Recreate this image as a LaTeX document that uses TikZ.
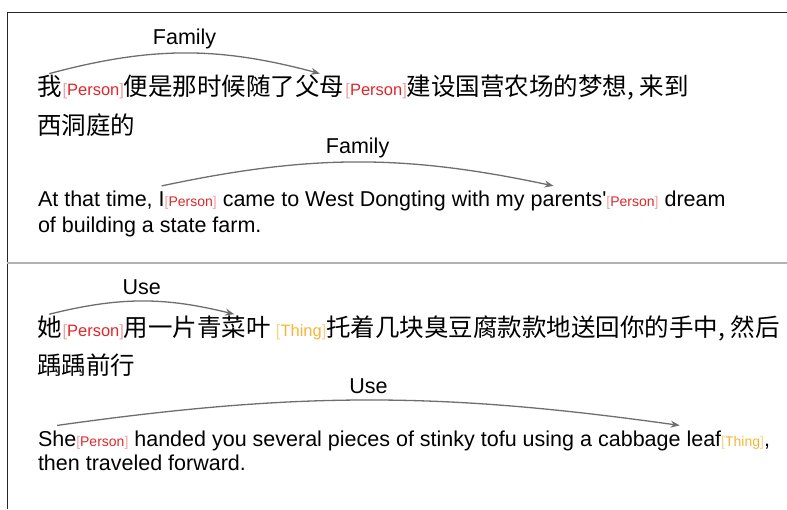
\documentclass[tikz,border=0pt]{standalone}
\usepackage{fontspec}
\setmainfont{Liberation Sans}[Ligatures=TeXOff]
\newfontfamily\cjk{Noto Sans CJK SC}
\usetikzlibrary{arrows.meta}

\definecolor{tagred}{HTML}{E0262B}
\definecolor{tagredlight}{HTML}{F2A0A0}
\definecolor{tagorange}{HTML}{F5B636}
\definecolor{tagorangelight}{HTML}{F8D48A}
\definecolor{arcgray}{HTML}{6E6E6E}

\newcommand{\persontag}{{\color{tagredlight}[}{\color{tagred}Person}{\color{tagredlight}]}}
\newcommand{\thingtag}{{\color{tagorangelight}[}{\color{tagorange}Thing}{\color{tagorangelight}]}}

\tikzset{
  piece/.style={inner sep=0pt, outer sep=0pt, anchor=base west},
  zh/.style={piece, font=\cjk\fontsize{24.5}{24.5}\selectfont},
  en/.style={piece, font=\fontsize{21.5}{21.5}\selectfont},
  zhtag/.style={piece, font=\fontsize{16.5}{16.5}\selectfont, xshift=1pt},
  entag/.style={piece, font=\fontsize{14}{14}\selectfont},
  rel/.style={draw=arcgray, line width=1.3pt, -{Stealth[length=9pt,width=7pt]}},
  rellabel/.style={font=\fontsize{21.5}{21.5}\selectfont, yshift=14pt}
}

\begin{document}
\begin{tikzpicture}[x=1pt,y=1pt]
  \useasboundingbox (0,0) rectangle (787,509);
  \draw[line width=1pt, black!85] (7,0) -- (7,496) -- (787,496);
  \draw[line width=1.5pt, black!30] (7,246) -- (787,246);

  % first example, Chinese
  \node (wo)       [zh]    at (37,413)         {我};
  \node (wotag)    [zhtag] at (wo.base east)   {\persontag};
  \node (l1a)      [zh]    at (wotag.base east) {便是那时候随了};
  \node (fumu)     [zh]    at (l1a.base east)  {父母};
  \node (fumutag)  [zhtag] at (fumu.base east) {\persontag};
  \node (l1b)      [zh]    at (fumutag.base east) {建设国营农场的梦想, 来到};
  \node (l1c)      [zh]    at (37,374.5)       {西洞庭的};

  % first example, English
  \node (l2a)      [en]    at (38,302.3)       {At that time,\ \mbox{}};
  \node (iword)    [en]    at (l2a.base east)  {I};
  \node (itag)     [entag] at (iword.base east) {\persontag};
  \node (l2b)      [en]    at (itag.base east) {\ came to West Dongting with my\ \mbox{}};
  \node (parents)  [en]    at (l2b.base east)  {parents'};
  \node (ptag)     [entag] at (parents.base east) {\persontag};
  \node (l2c)      [en]    at (ptag.base east) {\ dream};
  \node (l2d)      [en]    at (38,276)         {of building a state farm.};

  % second example, Chinese
  \node (ta)       [zh]    at (37,172.2)       {她};
  \node (tatag)    [zhtag] at (ta.base east)   {\persontag};
  \node (l3a)      [zh]    at (tatag.base east) {用一片};
  \node (cai)      [zh]    at (l3a.base east)  {青菜叶};
  \node (caitag)   [zhtag, xshift=4pt] at (cai.base east) {\thingtag};
  \node (l3b)      [zh]    at (caitag.base east) {托着几块臭豆腐款款地送回你的手中, 然后};
  \node (l3c)      [zh]    at (37,134.7)       {踽踽前行};

  % second example, English
  \node (she)      [en]    at (38,63)          {She};
  \node (shetag)   [entag] at (she.base east)  {\persontag};
  \node (l4a)      [en]    at (shetag.base east) {\ handed you several pieces of stinky tofu using a\ \mbox{}};
  \node (leaf)     [en]    at (l4a.base east)  {cabbage leaf};
  \node (leaftag)  [entag] at (leaf.base east) {\thingtag};
  \node (l4b)      [en]    at (leaftag.base east) {,};
  \node (l4c)      [en]    at (38,38.5)        {then traveled forward.};

  % relations
  \draw[rel] ([yshift=2pt]wo.north) to[bend left=15] node[rellabel]{Family} ([yshift=2pt]fumu.north);
  \draw[rel] ([yshift=6pt]iword.north) to[bend left=12] node[rellabel]{Family} ([xshift=-15pt,yshift=6pt]parents.north);
  \draw[rel] ([yshift=2pt]ta.north) to[bend left=14] node[rellabel]{Use} ([yshift=2pt]cai.north);
  \draw[rel] ([yshift=5pt]she.north) to[bend left=8] node[rellabel]{Use} ([xshift=20pt,yshift=5pt]leaf.north);
\end{tikzpicture}
\end{document}
